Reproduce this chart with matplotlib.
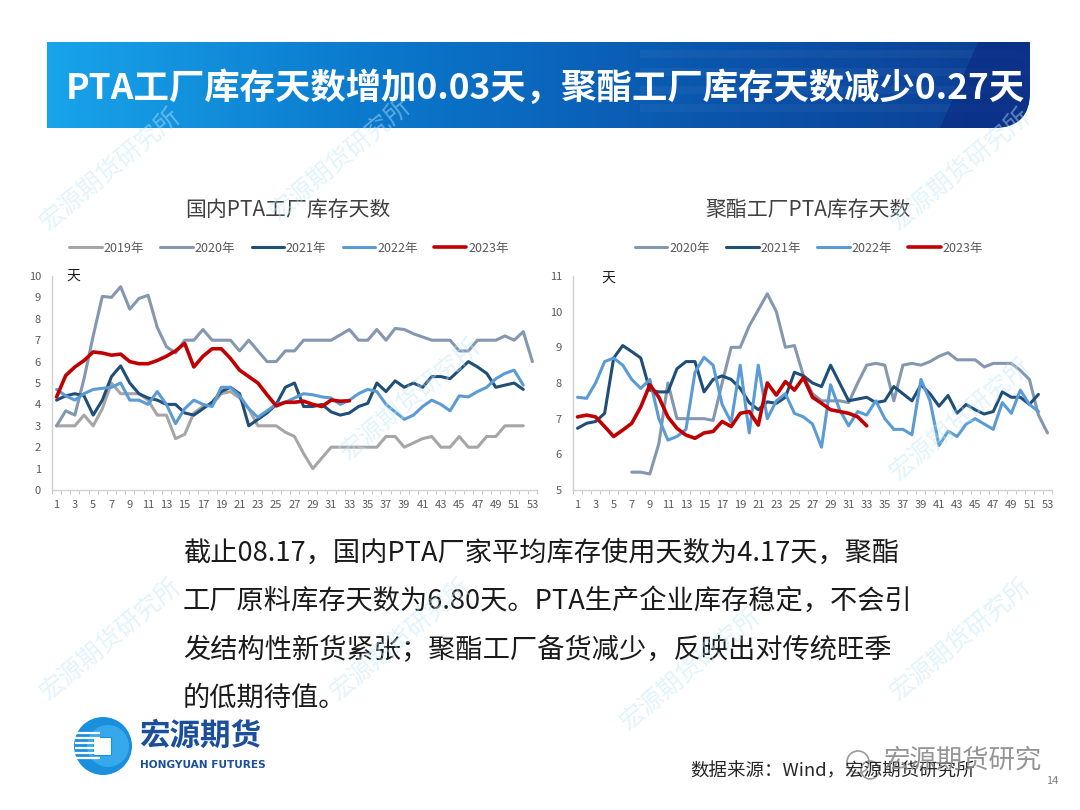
import numpy as np
import matplotlib.pyplot as plt
from matplotlib.path import Path
from matplotlib.patches import PathPatch, Circle, Rectangle, Polygon
from matplotlib.colors import LinearSegmentedColormap

plt.rcParams['font.family'] = ['Noto Sans CJK SC', 'DejaVu Sans']

nan = np.nan
weeks = list(range(1, 54))
week_labels = [str(w) for w in range(1, 54, 2)]

# 国内PTA工厂库存天数
pta_2019 = [3.0, 3.0, 3.0, 3.5, 3.0, 3.8, 5.0, 4.5, 4.5, 4.5, 4.2, 3.5, 3.5, 2.4, 2.6,
            3.6, 3.9, 4.0, 4.5, 4.6, 4.3, 3.8, 3.0, 3.0, 3.0, 2.7, 2.5, 1.7, 1.0, 1.5,
            2.0, 2.0, 2.0, 2.0, 2.0, 2.0, 2.5, 2.5, 2.0, 2.2, 2.4, 2.5, 2.0, 2.0, 2.5,
            2.0, 2.0, 2.5, 2.5, 3.0, 3.0, 3.0]
pta_2020 = [3.0, 3.7, 3.5, 5.2, 7.2, 9.05, 9.0, 9.5, 8.45, 8.95, 9.1, 7.6, 6.7, 6.4, 7.0,
            7.0, 7.5, 7.0, 7.0, 7.0, 6.5, 7.0, 6.5, 6.0, 6.0, 6.5, 6.5, 7.0, 7.0, 7.0,
            7.0, 7.25, 7.5, 7.0, 7.0, 7.5, 7.0, 7.55, 7.5, 7.3, 7.15, 7.0, 7.0, 7.0, 6.5,
            6.5, 7.0, 7.0, 7.0, 7.2, 7.0, 7.4, 6.0]
pta_2021 = [4.2, 4.4, 4.5, 4.4, 3.5, 4.2, 5.3, 5.8, 5.0, 4.5, 4.3, 4.2, 4.0, 4.0, 3.6,
            3.5, 3.8, 4.1, 4.6, 4.8, 4.5, 3.0, 3.3, 3.6, 4.0, 4.8, 5.0, 3.9, 3.9, 4.0,
            3.65, 3.5, 3.6, 3.9, 4.05, 5.0, 4.6, 5.1, 4.8, 5.0, 4.8, 5.3, 5.3, 5.2, 5.6,
            6.0, 5.75, 5.45, 4.8, 4.9, 5.0, 4.7]
pta_2022 = [4.7, 4.4, 4.2, 4.5, 4.7, 4.75, 4.8, 5.0, 4.2, 4.2, 4.0, 4.6, 4.0, 3.1, 3.8,
            4.2, 4.0, 3.9, 4.8, 4.8, 4.4, 3.8, 3.4, 3.7, 4.0, 4.1, 4.3, 4.5, 4.45, 4.35,
            4.3, 4.0, 4.2, 4.5, 4.7, 4.6, 4.0, 3.65, 3.3, 3.5, 3.9, 4.2, 4.0, 3.7, 4.4,
            4.35, 4.6, 4.8, 5.2, 5.45, 5.6, 4.9]
pta_2023 = [4.35, 5.35, 5.75, 6.05, 6.45, 6.4, 6.3, 6.35, 6.0, 5.9, 5.9, 6.05, 6.25, 6.5,
            6.85, 5.75, 6.25, 6.6, 6.6, 6.15, 5.6, 5.3, 5.0, 4.45, 3.93, 4.1, 4.1, 4.15,
            4.0, 3.9, 4.2, 4.15, 4.17]

# 聚酯工厂PTA库存天数
pet_2020 = [nan] * 6 + [5.5, 5.5, 5.45, 6.3, 8.0, 7.0, 7.0, 7.0, 7.0, 6.95, 8.0, 9.0, 9.0,
                        9.6, 10.05, 10.5, 10.0, 9.0, 9.05, 8.2, 7.7, 7.5, 7.5, 7.5, 7.45,
                        8.0, 8.5, 8.55, 8.5, 7.5, 8.5, 8.55, 8.5, 8.6, 8.75, 8.85, 8.65,
                        8.65, 8.65, 8.45, 8.55, 8.55, 8.55, 8.35, 8.1, 7.1, 6.6]
pet_2021 = [6.73, 6.87, 6.92, 7.15, 8.7, 9.05, 8.88, 8.7, 7.8, 7.75, 7.75, 8.4, 8.6, 8.6,
            7.75, 8.1, 8.2, 8.1, 7.85, 7.45, 7.25, 7.47, 7.43, 7.6, 8.3, 8.2, 8.0, 7.9,
            8.5, 8.0, 7.5, 7.55, 7.6, 7.45, 7.5, 7.9, 7.7, 7.5, 7.95, 7.7, 7.35, 7.65,
            7.15, 7.4, 7.25, 7.13, 7.2, 7.75, 7.6, 7.6, 7.4, 7.68]
pet_2022 = [7.6, 7.57, 8.0, 8.6, 8.7, 8.5, 8.1, 7.85, 8.1, 7.0, 6.4, 6.5, 6.7, 8.3, 8.72,
            8.5, 7.4, 6.9, 8.5, 6.6, 8.5, 7.0, 7.5, 7.7, 7.15, 7.05, 6.85, 6.2, 7.95, 7.25,
            6.8, 7.2, 7.1, 7.5, 7.0, 6.7, 6.7, 6.55, 8.1, 7.5, 6.25, 6.65, 6.5, 6.85, 7.0,
            6.85, 6.7, 7.45, 7.15, 7.8, 7.4, 7.2]
pet_2023 = [7.05, 7.1, 7.05, 6.78, 6.5, 6.68, 6.87, 7.33, 7.95, 7.6, 7.05, 6.73, 6.54, 6.45,
            6.6, 6.64, 6.92, 6.78, 7.15, 7.2, 6.82, 8.0, 7.66, 8.04, 7.8, 8.15, 7.6, 7.43,
            7.25, 7.2, 7.15, 7.05, 6.8]

colors = {'2019年': '#a6a6a6', '2020年': '#8497b0', '2021年': '#1f4e79',
          '2022年': '#5b9bd5', '2023年': '#c00000'}

title = 'PTA工厂库存天数增加0.03天，聚酯工厂库存天数减少0.27天'
body = ['截止08.17，国内PTA厂家平均库存使用天数为4.17天，聚酯',
        '工厂原料库存天数为6.80天。PTA生产企业库存稳定，不会引',
        '发结构性新货紧张；聚酯工厂备货减少，反映出对传统旺季',
        '的低期待值。']

fig = plt.figure(figsize=(10.8, 8.1), dpi=100)
bg = fig.add_axes([0, 0, 1, 1], zorder=0)
bg.set_xlim(0, 1080)
bg.set_ylim(810, 0)
bg.axis('off')

# banner
verts = [(47, 42), (1030, 42), (1030, 92), (1030, 128), (994, 128), (47, 128), (47, 42)]
codes = [Path.MOVETO, Path.LINETO, Path.LINETO, Path.CURVE3, Path.CURVE3, Path.LINETO, Path.CLOSEPOLY]
banner = PathPatch(Path(verts, codes), fc='none', ec='none')
bg.add_patch(banner)
cmap = LinearSegmentedColormap.from_list('b', ['#18a4ea', '#0b78cc', '#0a56ad', '#0c3d93'])
im = bg.imshow(np.linspace(0, 1, 256).reshape(1, -1), cmap=cmap, aspect='auto',
               extent=(47, 1030, 128, 42), zorder=1)
im.set_clip_path(banner)
for y0 in [50, 68, 86, 104]:
    st = bg.add_patch(Rectangle((640, y0), 390, 8, fc='white', alpha=0.04, zorder=2))
    st.set_clip_path(banner)
dark = bg.add_patch(Polygon([(978, 42), (1030, 42), (1030, 128), (940, 128)],
                            fc='#0b2d84', alpha=0.7, zorder=2))
dark.set_clip_path(banner)
bg.text(545, 88, title, color='white', fontsize=25.5, fontweight='bold',
        ha='center', va='center', zorder=3)

# body text
for i, line in enumerate(body):
    bg.text(183, 553 + i * 48.5, line, fontsize=19.6, color='#1a1a1a', ha='left', va='center')

# logo
bg.add_patch(Circle((103, 746), 29, fc='#1a8fdc', ec='none'))
bg.add_patch(Circle((108, 746), 21, fc='#36a9ec', ec='none'))
for yy in range(733, 762, 5):
    bg.plot([75, 100], [yy, yy], color='white', lw=1.6, solid_capstyle='butt')
bg.add_patch(Rectangle((93, 737), 18, 18, fc='white', ec='#1a8fdc', lw=0.8))
bg.text(139, 736, '宏源期货', fontsize=22, fontweight='bold', color='#1b4f9c',
        ha='left', va='center')
bg.text(140, 765, 'HONGYUAN FUTURES', fontsize=7.6, fontweight='bold', color='#1b4f9c',
        ha='left', va='center', family='DejaVu Sans')

# source + wechat mark
bg.text(690, 771, '数据来源：Wind，宏源期货研究所', fontsize=13.3, color='#262626',
        ha='left', va='center')
bg.text(1046, 781, '14', fontsize=8, color='#7f7f7f', ha='left', va='center')
bg.add_patch(Circle((858, 762), 11, fc='none', ec='#9a9a9a', lw=1.2))
bg.add_patch(Circle((870, 770), 9, fc='none', ec='#9a9a9a', lw=1.2))
bg.text(884, 760, '宏源期货研究', fontsize=19, color='#8a8a8a', ha='left', va='center', alpha=0.9)

# charts
def draw_chart(rect, series, ylim, yticks):
    ax = fig.add_axes(rect, zorder=2)
    ax.set_facecolor('none')
    for name, vals in series:
        lw = 2.6 if name == '2023年' else 2.2
        ax.plot(weeks[:len(vals)], vals, color=colors[name], lw=lw, label=name,
                solid_joinstyle='round', solid_capstyle='round',
                zorder=5 if name == '2023年' else 3)
    ax.set_xlim(0.5, 53.5)
    ax.set_ylim(*ylim)
    ax.set_yticks(yticks)
    ax.set_xticks(range(1, 54, 2))
    ax.set_xticklabels(week_labels)
    ax.set_xticks(np.arange(0.5, 54, 1), minor=True)
    ax.tick_params(axis='x', which='major', length=0, pad=7, labelsize=8, labelcolor='#595959')
    ax.tick_params(axis='x', which='minor', length=3, color='#bfbfbf')
    ax.tick_params(axis='y', length=0, pad=8, labelsize=8, labelcolor='#595959')
    for s in ['top', 'right']:
        ax.spines[s].set_visible(False)
    for s in ['left', 'bottom']:
        ax.spines[s].set_color('#d0d0d0')
        ax.spines[s].set_linewidth(1.0)
    return ax

ax1 = draw_chart([52 / 1080, 1 - 490 / 810, 485 / 1080, 214 / 810],
                 [('2019年', pta_2019), ('2020年', pta_2020), ('2021年', pta_2021),
                  ('2022年', pta_2022), ('2023年', pta_2023)],
                 (0, 10), range(0, 11))
ax2 = draw_chart([573 / 1080, 1 - 490 / 810, 479 / 1080, 214 / 810],
                 [('2020年', pet_2020), ('2021年', pet_2021),
                  ('2022年', pet_2022), ('2023年', pet_2023)],
                 (5, 11), range(5, 12))

ax1.text(0.03, 1.0, '天', transform=ax1.transAxes, fontsize=10, color='#1a1a1a', va='center')
ax2.text(0.06, 0.99, '天', transform=ax2.transAxes, fontsize=10, color='#1a1a1a', va='center')

fig.text(288 / 1080, 1 - 210 / 810, '国内PTA工厂库存天数', fontsize=15, color='#404040',
         ha='center', va='center')
fig.text(808 / 1080, 1 - 210 / 810, '聚酯工厂PTA库存天数', fontsize=15, color='#404040',
         ha='center', va='center')

for ax, cx in [(ax1, 289), (ax2, 809)]:
    ax.legend(loc='center', bbox_to_anchor=(cx / 1080, 1 - 248 / 810),
              bbox_transform=fig.transFigure, ncol=5, frameon=False, fontsize=9,
              handlelength=2.6, handletextpad=0.15, columnspacing=1.3,
              labelcolor='#595959')

# watermarks
ov = fig.add_axes([0, 0, 1, 1], zorder=4)
ov.set_xlim(0, 1080)
ov.set_ylim(810, 0)
ov.axis('off')
for (wx, wy) in [(110, 170), (340, 160), (960, 170), (110, 640), (410, 400), (400, 640),
                 (690, 670), (960, 640), (960, 420)]:
    ov.text(wx, wy, '宏源期货研究所', fontsize=18, color='#bfe6fa', alpha=0.45,
            rotation=40, ha='center', va='center')

fig.savefig('out.png', dpi=100)
